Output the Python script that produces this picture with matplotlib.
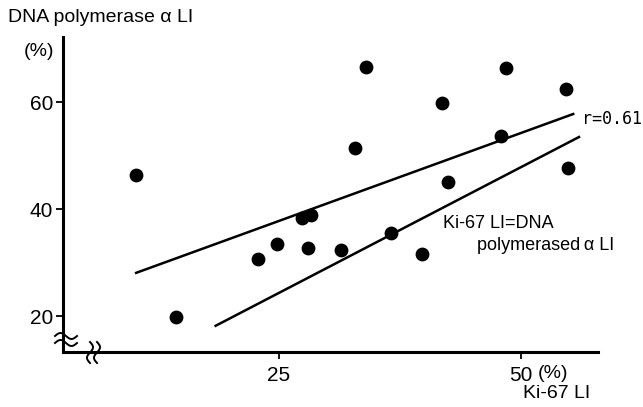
import numpy as np
import matplotlib
matplotlib.use("Agg")
import matplotlib.pyplot as plt

# Ki-67 LI (%) vs DNA polymerase alpha LI (%)
ki67 = [10.3, 14.4, 22.9, 24.8, 27.4, 28.3, 28.0, 31.4, 32.9, 34.0,
        36.6, 39.8, 42.5, 41.9, 48.0, 48.5, 54.7, 54.9]
dna_pol = [46.4, 19.9, 30.7, 33.5, 38.3, 39.0, 32.7, 32.3, 51.4, 66.5,
           35.5, 31.7, 45.0, 59.9, 53.7, 66.4, 62.4, 47.7]

# regression line end points (r=0.61) and the Ki-67 = DNA pol line
reg_x = [10.3, 55.4]
reg_y = [28.1, 57.8]
ident_x = [18.5, 56.0]
ident_y = [18.2, 53.5]

xticks = [25, 50]
yticks = [20, 40, 60]

plt.rcParams['font.family'] = ['Liberation Sans', 'DejaVu Sans']

W, H = 643, 407
fig = plt.figure(figsize=(W / 100, H / 100), dpi=100)
ax = fig.add_axes([63 / W, 1 - 352 / H, (598 - 63) / W, (352 - 37) / H])

ax.scatter(ki67, dna_pol, s=80, color="black", zorder=3, clip_on=False)
ax.plot(reg_x, reg_y, color="black", lw=1.8, clip_on=False)
ax.plot(ident_x, ident_y, color="black", lw=1.8, clip_on=False)

ax.set_xlim(2.75, 57.96)
ax.set_ylim(13.3, 72.2)

for s in ["top", "right"]:
    ax.spines[s].set_visible(False)
for s in ["left", "bottom"]:
    ax.spines[s].set_linewidth(2.2)

ax.set_xticks(xticks)
ax.set_xticklabels(["25", "50"])
ax.set_yticks(yticks)
ax.tick_params(direction="out", length=5, width=1.3, labelsize=15)
ax.tick_params(axis="x", pad=5)
ax.tick_params(axis="y", pad=2)

ax.text(56.3, 56.8, "r=0.61", fontsize=12, va="center", ha="left",
        family="DejaVu Sans Mono", clip_on=False)
ax.text(42.0, 37.3, "Ki-67 LI=DNA", fontsize=13, va="center", ha="left")
ax.text(45.5, 33.2, "polymerased\u2009α LI", fontsize=13, va="center",
        ha="left")

fig.text(8 / W, 1 - 17 / H, "DNA polymerase α LI", fontsize=14,
         va="center", ha="left")
fig.text(24 / W, 1 - 52 / H, "(%)", fontsize=14, va="center", ha="left")
fig.text(538 / W, 1 - 373 / H, "(%)", fontsize=14, va="center", ha="left")
fig.text(523 / W, 1 - 394 / H, "Ki-67 LI", fontsize=14, va="center", ha="left")


# axis break marks (pixel positions)
def px(x, y):
    return x / W, 1 - y / H


t = np.linspace(0, 2 * np.pi, 40)
for yc in [336, 343]:
    xs = 55 + 22 * t / (2 * np.pi)
    ys = yc - 3 * np.sin(t)
    fx, fy = zip(*[px(a, b) for a, b in zip(xs, ys)])
    fig.add_artist(plt.Line2D(fx, fy, color="black", lw=1.4))
for xc in [90, 97]:
    ys = 342 + 21 * t / (2 * np.pi)
    xs = xc + 3 * np.sin(t)
    fx, fy = zip(*[px(a, b) for a, b in zip(xs, ys)])
    fig.add_artist(plt.Line2D(fx, fy, color="black", lw=1.4))

fig.savefig("out.png", dpi=100)
